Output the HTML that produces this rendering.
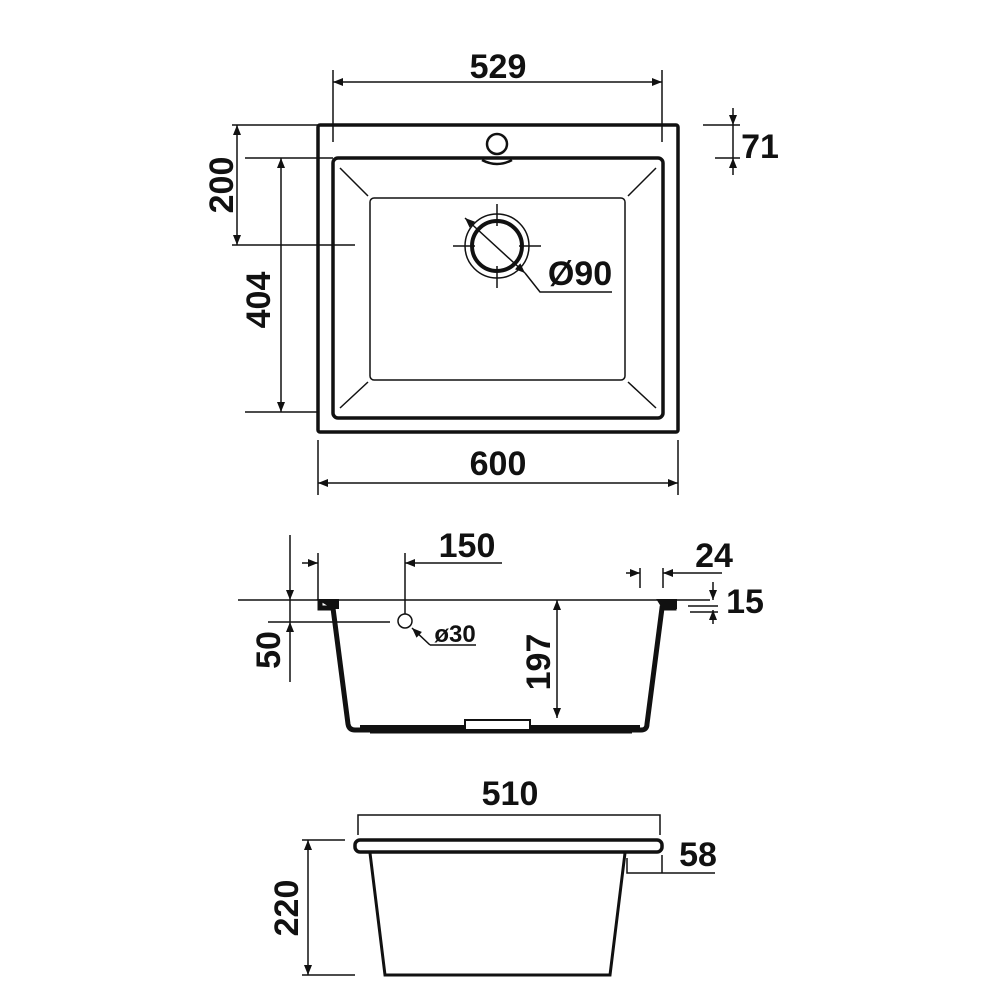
<!DOCTYPE html>
<html><head><style>body{margin:0;background:#fff}svg{display:block}text{font-family:"Liberation Sans",sans-serif;font-weight:bold;fill:#111}</style></head>
<body>
<svg width="1000" height="1000" viewBox="0 0 1000 1000" xmlns="http://www.w3.org/2000/svg">
<defs>
<marker id="a" viewBox="0 0 10 10" refX="10" refY="5" markerWidth="10" markerHeight="10" markerUnits="userSpaceOnUse" orient="auto-start-reverse"><path d="M0,1L10,5L0,9z" fill="#111"/></marker>
</defs>
<g stroke="#111" fill="none" stroke-width="1.5">
<rect x="318" y="125" width="360" height="307" rx="2" stroke-width="3.5"/>
<rect x="333" y="158" width="330" height="260" rx="5" stroke-width="3.5"/>
<rect x="370" y="198" width="255" height="182" rx="4" stroke-width="1.5"/>
<path d="M340,168L368,196M656,168L628,196M340,408L368,382M656,408L628,382"/>
<circle cx="497" cy="144" r="10" stroke-width="2.5"/>
<path d="M482,160Q497,168 512,160" stroke-width="2.5"/>
<circle cx="497" cy="246" r="25" stroke-width="4"/>
<circle cx="497" cy="246" r="32" stroke-width="1.5"/>
<path d="M497,204V226M497,266V288M453,246H475M519,246H541"/>
<path d="M465,218L525,273" marker-start="url(#a)" marker-end="url(#a)"/>
<path d="M525,273L540,292H612"/>
<path d="M333,70V142M662,70V142"/>
<path d="M333,82H662" marker-start="url(#a)" marker-end="url(#a)"/>
<path d="M232,125H318M232,245H355"/>
<path d="M237,125V245" marker-start="url(#a)" marker-end="url(#a)"/>
<path d="M245,158H333M245,412H318"/>
<path d="M281,158V412" marker-start="url(#a)" marker-end="url(#a)"/>
<path d="M703,125H740M715,158H740"/>
<path d="M733,108V125" marker-end="url(#a)"/>
<path d="M733,175V158" marker-end="url(#a)"/>
<path d="M733,125V158"/>
<path d="M318,440V495M678,440V495"/>
<path d="M318,483H678" marker-start="url(#a)" marker-end="url(#a)"/>
<!-- SIDE VIEW -->
<path d="M320,600H338V608H333z" fill="#111" stroke-width="2"/>
<path d="M658,600H676V608H663z" fill="#111" stroke-width="2"/>
<path d="M320,600V608H333L348,724Q349,730 355,730H641Q647,730 647,724L662,608H674V600" stroke-width="5"/>
<path d="M360,728H640" stroke-width="6"/>
<path d="M465,720H530V730H465z" stroke-width="2" fill="#fff"/>
<path d="M370,733H632" stroke-width="1"/>
<path d="M238,600H318M335,600H660M676,600H710"/>
<path d="M268,622H390"/>
<circle cx="405" cy="621" r="7" stroke-width="1.5"/>
<path d="M430,645L412,628" marker-end="url(#a)"/>
<path d="M430,645H476"/>
<path d="M318,553V600M405,553V614"/>
<path d="M302,563H318" marker-end="url(#a)"/>
<path d="M502,563H405" marker-end="url(#a)"/>
<path d="M290,535V600" marker-end="url(#a)"/>
<path d="M290,682V622" marker-end="url(#a)"/>
<path d="M290,600V622"/>
<path d="M557,600V718" marker-start="url(#a)" marker-end="url(#a)"/>
<path d="M640,568V588M663,568V588"/>
<path d="M626,573H640" marker-end="url(#a)"/>
<path d="M722,573H663" marker-end="url(#a)"/>
<path d="M688,606H718M690,612H718"/>
<path d="M713,582V600" marker-end="url(#a)"/>
<path d="M713,624V610" marker-end="url(#a)"/>
<!-- BOTTOM VIEW -->
<rect x="355" y="840" width="307" height="12" rx="5" stroke-width="3.5"/>
<path d="M370,853L385,975H610L625,853" stroke-width="3"/>
<path d="M358,835V815H660V835"/>
<path d="M302,840H345M302,975H355"/>
<path d="M308,840V975" marker-start="url(#a)" marker-end="url(#a)"/>
<path d="M627,858V873H715M662,855V873"/>
</g>
<text x="498" y="78" font-size="34" text-anchor="middle">529</text>
<text x="498" y="475" font-size="34" text-anchor="middle">600</text>
<text x="760" y="158" font-size="34" text-anchor="middle">71</text>
<text x="580" y="285" font-size="34" text-anchor="middle">Ø90</text>
<text transform="translate(233,185) rotate(-90)" font-size="34" text-anchor="middle">200</text>
<text transform="translate(270,300) rotate(-90)" font-size="34" text-anchor="middle">404</text>
<text x="467" y="557" font-size="34" text-anchor="middle">150</text>
<text x="714" y="567" font-size="34" text-anchor="middle">24</text>
<text x="745" y="613" font-size="34" text-anchor="middle">15</text>
<text x="455" y="642" font-size="24" text-anchor="middle">ø30</text>
<text transform="translate(280,650) rotate(-90)" font-size="34" text-anchor="middle">50</text>
<text transform="translate(550,662) rotate(-90)" font-size="34" text-anchor="middle">197</text>
<text x="510" y="805" font-size="34" text-anchor="middle">510</text>
<text x="698" y="866" font-size="34" text-anchor="middle">58</text>
<text transform="translate(298,908) rotate(-90)" font-size="34" text-anchor="middle">220</text>
</svg>
</body></html>
